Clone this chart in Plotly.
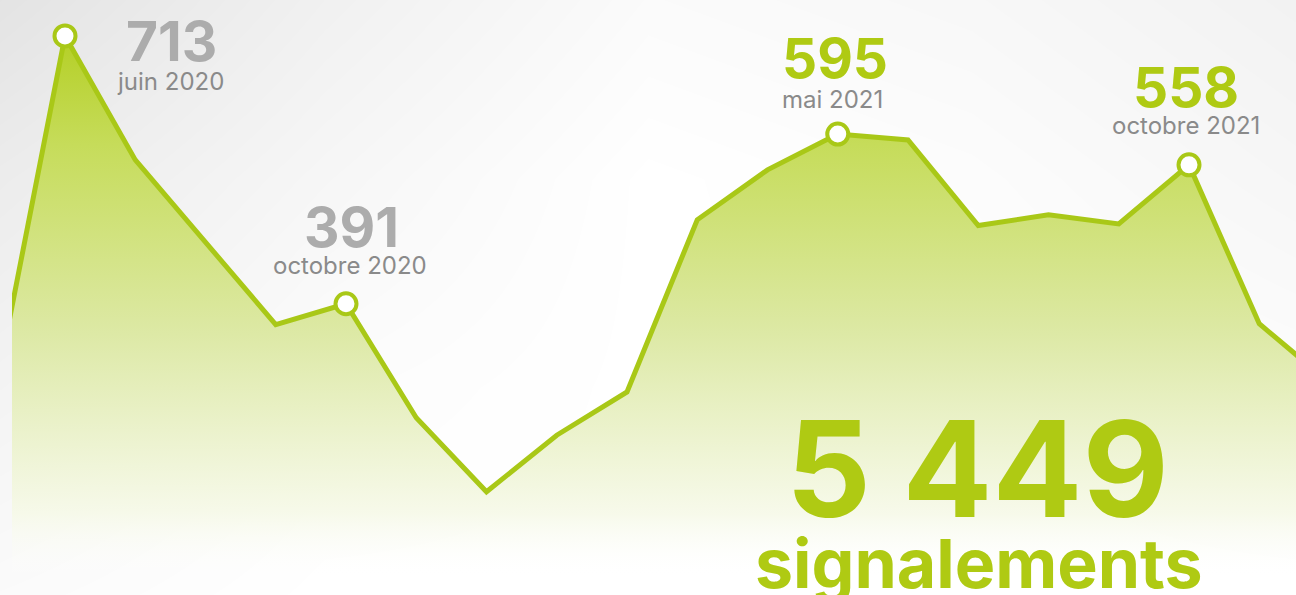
import plotly.graph_objects as go

# Monthly counts (index 0 = mai 2020 ... index 19 = décembre 2021)
months = ["mai 2020", "juin 2020", "juillet 2020", "août 2020", "septembre 2020",
          "octobre 2020", "novembre 2020", "décembre 2020", "janvier 2021", "février 2021",
          "mars 2021", "avril 2021", "mai 2021", "juin 2021", "juillet 2021",
          "août 2021", "septembre 2021", "octobre 2021", "novembre 2021", "décembre 2021"]
values = [282, 713, 564, 464, 366, 391, 254, 165, 233, 285,
          492, 552, 595, 588, 485, 498, 487, 558, 367, 296]

highlight_idx = [1, 5, 12, 17]
highlight_colors = ["#acacac", "#acacac", "#afca13", "#afca13"]
total_label = "5 449"
total_caption = "signalements"

GREEN = "#a9c817"
FONT = "Inter"

x = list(range(len(values)))

fig = go.Figure()

# background vignette (decoration only)
fig.add_trace(go.Heatmap(
    z=[[0.905, 0.95, 0.985, 0.975, 0.955],
       [0.935, 0.97, 1.0, 0.99, 0.97],
       [0.96, 0.99, 1.0, 1.0, 0.99],
       [0.985, 1.0, 1.0, 1.0, 1.0]],
    x=[0, 0.25, 0.5, 0.75, 1], y=[1, 0.7, 0.35, 0],
    xaxis="x", yaxis="y", zsmooth="best", showscale=False,
    colorscale=[[0, "#e2e2e2"], [1, "#ffffff"]], zmin=0.9, zmax=1.0,
    hoverinfo="skip",
))

fig.add_trace(go.Scatter(
    x=x, y=values, mode="lines", xaxis="x2", yaxis="y2",
    line=dict(color=GREEN, width=5, shape="linear"),
    fill="tozeroy",
    fillgradient=dict(type="vertical", start=60, stop=713,
                      colorscale=[[0, "rgba(255,255,255,0)"], [0.12, "rgba(246,249,232,0.9)"],
                                  [0.45, "#dde9a6"], [0.8, "#c6dc5a"], [1, "#b4cf25"]]),
    hoverinfo="skip",
))

fig.add_trace(go.Scatter(
    x=[x[i] for i in highlight_idx], y=[values[i] for i in highlight_idx],
    mode="markers", xaxis="x2", yaxis="y2",
    marker=dict(size=21, color="white", line=dict(color=GREEN, width=4)),
    hoverinfo="skip",
))

# annotation offsets (pixels)
num_dx = [106, 5, -3, -3]
num_dy = [-5, 77, 76, 78]
lab_dx = [105, 4, -5, -3]
lab_dy = [-46, 38, 35, 39]
for k, i in enumerate(highlight_idx):
    fig.add_annotation(x=x[i], y=values[i], xref="x2", yref="y2",
                       text=f"<b>{values[i]}</b>", showarrow=False,
                       xanchor="center", yanchor="middle",
                       xshift=num_dx[k], yshift=num_dy[k],
                       font=dict(family=FONT, size=55, color=highlight_colors[k]))
    fig.add_annotation(x=x[i], y=values[i], xref="x2", yref="y2",
                       text=months[i], showarrow=False,
                       xanchor="center", yanchor="middle",
                       xshift=lab_dx[k], yshift=lab_dy[k],
                       font=dict(family=FONT, size=24, color="#8a8a8a"))

fig.add_annotation(xref="paper", yref="paper", x=977 / 1296, y=1 - 468 / 595,
                   xanchor="center", yanchor="middle",
                   text=f"<b>{total_label}</b>", showarrow=False,
                   font=dict(family=FONT, size=133, color="#afca13"))
fig.add_annotation(xref="paper", yref="paper", x=979 / 1296, y=1 - 563 / 595,
                   xanchor="center", yanchor="middle",
                   text=f"<b>{total_caption}</b>", showarrow=False,
                   font=dict(family=FONT, size=68, color="#afca13"))

fig.update_layout(
    width=1296, height=595,
    margin=dict(l=0, r=0, t=0, b=0, pad=0),
    paper_bgcolor="white", plot_bgcolor="rgba(0,0,0,0)",
    showlegend=False,
    xaxis=dict(domain=[0, 1], range=[0, 1], visible=False, fixedrange=True),
    yaxis=dict(domain=[0, 1], range=[0, 1], visible=False, fixedrange=True),
    xaxis2=dict(domain=[12 / 1296, 1], range=[0.2456, 18.523], visible=False,
                fixedrange=True, anchor="y2"),
    yaxis2=dict(domain=[0, 1], range=[40.9, 756.2], visible=False,
                fixedrange=True, anchor="x2"),
)

fig.write_html("out.html", config={"displayModeBar": False},
               post_script="document.body.style.margin='0px';document.body.style.overflow='hidden';")
